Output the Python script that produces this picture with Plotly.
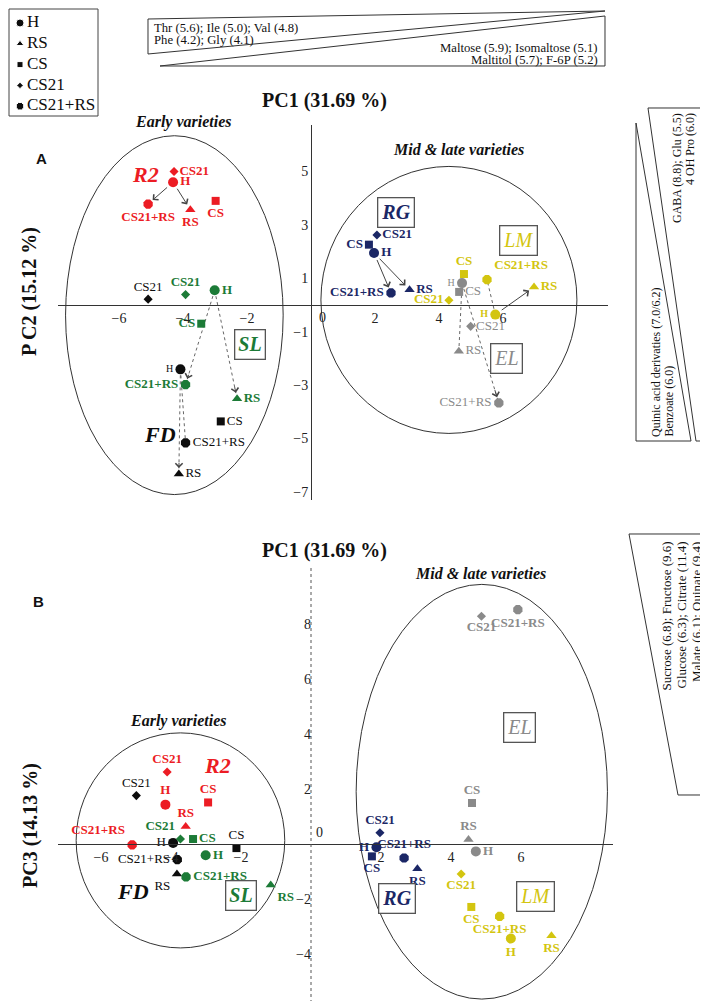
import plotly.graph_objects as go

W, H = 708, 1001
SERIF = "Liberation Serif"
SANS = "Liberation Sans"

treatments = ["H", "RS", "CS", "CS21", "CS21+RS"]

# panel A : scores PC1 / PC2 (same order as treatments)
r2_pc1 = [-4.31, -3.77, -2.98, -4.28, -5.09]
r2_pc2 = [4.60, 3.57, 3.90, 5.00, 3.78]
sl_pc1 = [-3.01, -2.31, -3.43, -3.92, -3.92]
sl_pc2 = [0.55, -3.51, -0.70, 0.39, -2.98]
fd_pc1 = [-4.08, -4.13, -2.82, -5.09, -3.92]
fd_pc2 = [-2.41, -6.33, -4.36, 0.22, -5.16]
rg_pc1 = [1.97, 3.08, 1.81, 2.06, 2.50]
rg_pc2 = [1.95, 0.57, 2.26, 2.62, 0.45]
lm_pc1 = [5.76, 6.97, 4.78, 4.31, 5.50]
lm_pc2 = [-0.36, 0.67, 1.16, 0.18, 0.95]
el_pc1 = [4.72, 4.62, 4.63, 4.99, 5.87]
el_pc2 = [0.82, -1.73, 0.49, -0.80, -3.67]

# panel B : scores PC1 / PC3
r2_b_pc1 = [-4.16, -3.58, -2.94, -4.11, -5.11]
r2_pc3 = [1.42, 0.63, 1.50, 2.61, -0.04]
fd_b_pc1 = [-3.94, -3.83, -2.13, -4.99, -3.82]
fd_pc3 = [0.03, -1.10, -0.16, 1.75, -0.58]
sl_b_pc1 = [-3.01, -1.15, -3.37, -3.73, -3.57]
sl_pc3 = [-0.42, -1.50, 0.17, 0.17, -1.21]
rg_b_pc1 = [1.87, 3.04, 1.74, 1.97, 2.66]
rg_pc3 = [-0.13, -0.91, -0.46, 0.40, -0.52]
lm_b_pc1 = [5.71, 6.87, 4.58, 4.29, 5.39]
lm_pc3 = [-3.45, -3.35, -2.30, -1.10, -2.64]
el_b_pc1 = [4.71, 4.50, 4.60, 4.87, 5.91]
el_pc3 = [-0.28, 0.15, 1.48, 8.27, 8.51]

# H -> treatment arrows in panel A (group, target, dotted)
arrows_a = [("R2", "CS21+RS", False), ("R2", "RS", False),
            ("SL", "CS21+RS", True), ("SL", "RS", True),
            ("FD", "CS21+RS", True), ("FD", "RS", True),
            ("RG", "CS21+RS", False), ("RG", "RS", False),
            ("LM", "CS21+RS", True), ("LM", "RS", False),
            ("EL", "RS", True), ("EL", "CS21+RS", True)]

# variety ellipses (centre x, centre y, half width, half height)
ell_a = [(-4.27, -0.38, 3.40, 6.72), (4.31, 0.19, 4.0, 5.0)]
ell_b = [(-3.73, 0.12, 2.98, 3.91), (4.88, 1.89, 3.59, 7.54)]

# loading wedges text (one entry per line)
top_left_txt = ["Thr (5.6); Ile (5.0); Val (4.8)", "Phe (4.2); Gly (4.1)"]
top_right_txt = ["Maltose (5.9); Isomaltose (5.1)", "Maltitol (5.7); F-6P (5.2)"]
gaba_txt = ["GABA (8.8); Glu (5.5)", "4 OH Pro (6.0)"]
quinic_txt = ["Quinic acid derivaties (7.0/6.2)", "Benzoate (6.0)"]
sugar_txt = ["Sucrose (6.8); Fructose (9.6)", "Glucose (6.3); Citrate (11.4)", "Malate (6.1); Quinate (9.4)"]

RED, GREEN, BLACK = "#ec1c24", "#1c7b37", "#0d0d0d"
NAVY, YELLOW, GRAY = "#1b2766", "#d3c50f", "#8a8a8a"

SYMBOL = {"H": "circle", "RS": "triangle-up", "CS": "square", "CS21": "diamond", "CS21+RS": "octagon"}
SIZE = {"H": 10, "RS": 9, "CS": 8, "CS21": 7, "CS21+RS": 10}


def px(x):
    return x / W


def py(y):
    return 1 - y / H


fig = go.Figure()

# axis scales (pixel of origin, pixels per unit)
XA0, XSA, YA0, YSA = 303, 32.0, 297, 26.7
XB0, XSB, YB0, YSB = 303, 35.0, 835.7, 27.5

tickfont = dict(family=SERIF, size=14, color="#222")
fig.update_layout(
    width=W, height=H, margin=dict(l=0, r=0, t=0, b=0),
    plot_bgcolor="white", paper_bgcolor="white", showlegend=False,
    font=dict(family=SERIF),
    xaxis=dict(domain=[px(50), px(600)], range=[(50 - XA0) / XSA, (600 - XA0) / XSA],
               anchor="free", position=py(YA0), showline=True, linecolor="#333", linewidth=1,
               showgrid=False, zeroline=False, tickvals=[-6, -4, -2, 2, 4, 6], ticks="",
               tickfont=tickfont),
    yaxis=dict(domain=[py(492), py(117)], range=[(YA0 - 492) / YSA, (YA0 - 117) / YSA],
               anchor="free", position=px(XA0), showline=True, linecolor="#333", linewidth=1,
               showgrid=False, zeroline=False, tickvals=[5, 3, 1, -1, -3, -5, -7], ticks="",
               tickfont=tickfont),
    xaxis2=dict(domain=[px(50), px(605)], range=[(50 - XB0) / XSB, (605 - XB0) / XSB],
                anchor="free", position=py(YB0), showline=True, linecolor="#333", linewidth=1,
                showgrid=False, zeroline=False, tickvals=[-6, -4, -2, 2, 4, 6], ticks="",
                tickfont=tickfont),
    yaxis2=dict(domain=[0, py(558)], range=[(YB0 - 1001) / YSB, (YB0 - 558) / YSB],
                anchor="free", position=px(XB0), showline=False,
                showgrid=False, zeroline=False, tickvals=[8, 6, 4, 2, -2, -4], ticks="",
                tickfont=tickfont),
    xaxis3=dict(domain=[0, px(90)], range=[0, 90], visible=False),
    yaxis3=dict(domain=[py(108), 1], range=[4.47, -0.72], visible=False),
)

# dotted PC3 axis
fig.add_shape(type="line", xref="x2", yref="y2 domain", x0=0, x1=0, y0=0, y1=1,
              line=dict(color="#555", width=1, dash="dot"))

for cx, cy, a, b in ell_a:
    fig.add_shape(type="circle", xref="x", yref="y", x0=cx - a, x1=cx + a, y0=cy - b, y1=cy + b,
                  line=dict(color="#333", width=1), layer="below")
for cx, cy, a, b in ell_b:
    fig.add_shape(type="circle", xref="x2", yref="y2", x0=cx - a, x1=cx + a, y0=cy - b, y1=cy + b,
                  line=dict(color="#333", width=1), layer="below")


def add_group(xs, ys, color, pos, axx, axy, bold=True, small=()):
    fig.add_trace(go.Scatter(
        x=xs, y=ys, mode="markers+text", text=treatments, textposition=pos,
        marker=dict(symbol=[SYMBOL[t] for t in treatments], size=[SIZE[t] for t in treatments],
                    color=color, opacity=1, line=dict(width=0)),
        textfont=dict(family=SERIF, color=color, weight="bold" if bold else "normal",
                      size=[10 if t in small else 13 for t in treatments]),
        xaxis=axx, yaxis=axy, cliponaxis=False, hoverinfo="skip", showlegend=False))


groups_a = {"R2": (r2_pc1, r2_pc2), "SL": (sl_pc1, sl_pc2), "FD": (fd_pc1, fd_pc2),
            "RG": (rg_pc1, rg_pc2), "LM": (lm_pc1, lm_pc2), "EL": (el_pc1, el_pc2)}

# arrows first so markers sit on top
for g, target, dotted in arrows_a:
    xs, ys = groups_a[g]
    i = treatments.index(target)
    x0, y0, x1, y1 = xs[0], ys[0], xs[i], ys[i]
    if dotted:
        fig.add_trace(go.Scatter(x=[x0, x1], y=[y0, y1], mode="lines",
                                 line=dict(color="#666", width=1, dash="dot"),
                                 xaxis="x", yaxis="y", hoverinfo="skip", showlegend=False))
        tx, ty = x1 - 0.12 * (x1 - x0), y1 - 0.12 * (y1 - y0)
    else:
        tx, ty = x0, y0
    fig.add_annotation(x=x1, y=y1, ax=tx, ay=ty, xref="x", yref="y", axref="x", ayref="y",
                       text="", showarrow=True, arrowhead=4, arrowsize=1.4, arrowwidth=1,
                       arrowcolor="#444", standoff=6, startstandoff=0 if dotted else 6)

add_group(r2_pc1, r2_pc2, RED, ["middle right", "bottom center", "bottom center", "middle right", "bottom center"], "x", "y")
add_group(sl_pc1, sl_pc2, GREEN, ["middle right", "middle right", "middle left", "top center", "middle left"], "x", "y")
add_group(fd_pc1, fd_pc2, BLACK, ["middle left", "middle right", "middle right", "top center", "middle right"], "x", "y", bold=False, small=("H",))
add_group(rg_pc1, rg_pc2, NAVY, ["middle right", "middle right", "middle left", "middle right", "middle left"], "x", "y")
add_group(lm_pc1, lm_pc2, YELLOW, ["middle left", "middle right", "top center", "middle left", "top right"], "x", "y", small=("H",))
add_group(el_pc1, el_pc2, GRAY, ["middle left", "middle right", "middle right", "middle right", "middle left"], "x", "y", bold=False, small=("H",))

add_group(r2_b_pc1, r2_pc3, RED, ["top center", "top center", "top center", "top center", "top left"], "x2", "y2")
add_group(fd_b_pc1, fd_pc3, BLACK, ["middle left", "bottom left", "top center", "top center", "middle left"], "x2", "y2", bold=False)
add_group(sl_b_pc1, sl_pc3, GREEN, ["middle right", "bottom right", "middle right", "top left", "middle right"], "x2", "y2")
add_group(rg_b_pc1, rg_pc3, NAVY, ["middle left", "bottom center", "bottom center", "top center", "top center"], "x2", "y2")
add_group(lm_b_pc1, lm_pc3, YELLOW, ["bottom center"] * 5, "x2", "y2")
add_group(el_b_pc1, el_pc3, GRAY, ["middle right", "top center", "top center", "bottom center", "bottom center"], "x2", "y2")


def tag(text, x, y, xr, yr, color, box=False, size=20, bold=True):
    t = "<i>%s</i>" % text
    if bold:
        t = "<b>%s</b>" % t
    fig.add_annotation(x=x, y=y, xref=xr, yref=yr, text=t, showarrow=False,
                       font=dict(family=SERIF, size=size, color=color),
                       bordercolor="#555" if box else "rgba(0,0,0,0)",
                       borderwidth=1.3 if box else 0, borderpad=3,
                       bgcolor="white" if box else "rgba(0,0,0,0)")


tag("R2", -5.16, 4.90, "x", "y", RED, size=22)
tag("SL", -1.92, -1.49, "x", "y", GREEN, box=True)
tag("FD", -4.73, -4.86, "x", "y", BLACK, size=22)
tag("RG", 2.66, 3.45, "x", "y", NAVY, box=True)
tag("LM", 6.47, 2.43, "x", "y", YELLOW, box=True, bold=False)
tag("EL", 6.10, -1.99, "x", "y", GRAY, box=True, bold=False)

tag("R2", -2.66, 2.85, "x2", "y2", RED, size=22)
tag("FD", -5.10, -1.72, "x2", "y2", BLACK, size=22)
tag("SL", -2.00, -1.90, "x2", "y2", GREEN, box=True)
tag("RG", 2.47, -2.00, "x2", "y2", NAVY, box=True)
tag("LM", 6.41, -1.91, "x2", "y2", YELLOW, box=True, bold=False)
tag("EL", 5.96, 4.23, "x2", "y2", GRAY, box=True, bold=False)

fig.add_annotation(x=0.35, y=-0.45, xref="x", yref="y", text="0", showarrow=False,
                   font=dict(family=SERIF, size=14, color="#222"))
fig.add_annotation(x=0.25, y=0.40, xref="x2", yref="y2", text="0", showarrow=False,
                   font=dict(family=SERIF, size=14, color="#222"))


def note(text, x, y, size, angle=0, xanchor="center", yanchor="middle", family=SERIF):
    fig.add_annotation(x=px(x), y=py(y), xref="paper", yref="paper", text=text, showarrow=False,
                       textangle=angle, xanchor=xanchor, yanchor=yanchor,
                       font=dict(family=family, size=size, color="#111"))


note("<b>PC1 (31.69 %)</b>", 316, 92, 20)
note("<b>PC1 (31.69 %)</b>", 316, 542, 20)
note("<b>P C2 (15.12 %)</b>", 22, 284, 20, angle=-90)
note("<b>PC3 (14.13 %)</b>", 22, 818, 20, angle=-90)
note("<b>A</b>", 33, 150, 15, family=SANS)
note("<b>B</b>", 30, 593, 15, family=SANS)
note("<b><i>Early varieties</i></b>", 175, 114, 16)
note("<b><i>Mid &amp; late varieties</i></b>", 450, 142, 16)
note("<b><i>Early varieties</i></b>", 170, 713, 16)
note("<b><i>Mid &amp; late varieties</i></b>", 472, 565, 16)


def wedge(points):
    d = "M " + " L ".join("%.5f,%.5f" % (px(x), py(y)) for x, y in points) + " Z"
    fig.add_shape(type="path", path=d, xref="paper", yref="paper",
                  line=dict(color="#333", width=1))


wedge([(140, 11), (597, 3), (140, 46)])
wedge([(597, 8), (597, 58), (152, 58)])
wedge([(640, 100), (704, 100), (704, 433), (688, 433)])
wedge([(628, 115), (628, 433), (683, 433)])
wedge([(621, 526), (702, 526), (702, 787), (670, 787)])

for k, line in enumerate(top_left_txt):
    note(line, 144, 20 + 11.6 * k, 12.7, xanchor="left")
for k, line in enumerate(top_right_txt):
    note(line, 592, 40 + 11.6 * k, 12.7, xanchor="right")
for k, line in enumerate(gaba_txt):
    note(line, 669 + 13 * k, 103, 12, angle=-90, yanchor="top")
for k, line in enumerate(quinic_txt):
    note(line, 648 + 13 * k, 431, 12, angle=-90, yanchor="bottom")
for k, line in enumerate(sugar_txt):
    note(line, 658 + 15 * k, 532, 13, angle=-90, yanchor="top")

# legend box
fig.add_shape(type="rect", xref="paper", yref="paper", x0=px(1), x1=px(90), y0=py(108), y1=py(1),
              line=dict(color="#444", width=1))
fig.add_trace(go.Scatter(x=[12] * len(treatments), y=list(range(len(treatments))), mode="markers",
                         marker=dict(symbol=[SYMBOL[t] for t in treatments], color=BLACK, opacity=1,
                                     size=[SIZE[t] - 2 for t in treatments]),
                         xaxis="x3", yaxis="y3", hoverinfo="skip", showlegend=False))
fig.add_trace(go.Scatter(x=[19] * len(treatments), y=list(range(len(treatments))), mode="text",
                         text=treatments, textposition="middle right",
                         textfont=dict(family=SERIF, size=17, color=BLACK),
                         xaxis="x3", yaxis="y3", cliponaxis=False, hoverinfo="skip", showlegend=False))

fig.write_html("out.html")
